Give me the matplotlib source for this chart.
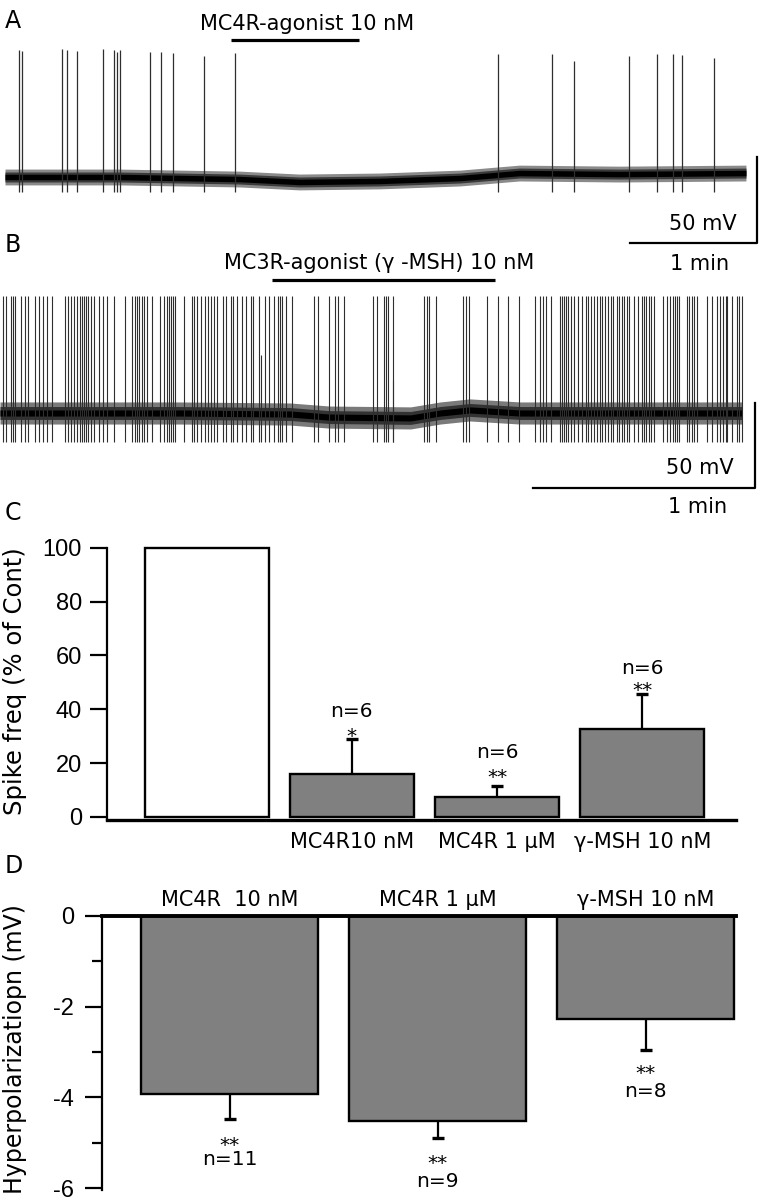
import numpy as np
import matplotlib
matplotlib.use('Agg')
import matplotlib.pyplot as plt
from matplotlib import font_manager as fm
from matplotlib.transforms import blended_transform_factory

plt.rcParams['font.family'] = ['DejaVu Sans']
plt.rcParams['axes.unicode_minus'] = False

# ---------------- data ----------------
# Panel A : MC4R-agonist 10 nM (times in s, voltages in mV)
a_spike_t = [6.5, 8.0, 26.9, 29.3, 33.9, 46.3, 51.5, 53.0, 54.3, 68.6, 73.7, 79.2, 93.9, 108.6,
             232.9, 258.4, 269.0, 294.8, 308.2, 315.5, 319.8, 334.7]
a_spike_peak = [23.8, 23.4, 24.4, 23.8, 23.3, 24.4, 23.8, 22.7, 23.8, 22.9, 22.9, 22.3, 20.3, 22.3,
                21.5, 21.5, 17.4, 20.1, 21.5, 21.5, 20.9, 19.2]
a_trough = -59.0
a_base_t = [0, 54, 111, 139, 177, 215, 243, 290, 350]
a_base_v = [-50.0, -50.0, -51.2, -52.9, -52.3, -50.6, -47.7, -48.3, -47.7]
a_drug = (106.6, 167.3)

# Panel B : MC3R-agonist (gamma-MSH) 10 nM
b_spike_t = [0.9, 1.7, 2.9, 3.6, 4.1, 5.6, 6.7, 7.6, 9.4, 10.5, 11.5, 12.6, 14.0,
             17.6, 18.3, 19.1, 20.0, 20.9, 21.6, 22.2, 22.7, 23.2, 23.9, 24.5, 25.4, 26.7, 27.8, 28.8,
             30.8, 33.8, 35.6, 36.4, 36.9, 37.6, 38.4, 39.0, 39.8, 41.1, 43.3, 44.2, 45.1, 45.8, 46.2,
             46.8, 47.3, 49.8, 51.8, 52.4, 53.2, 54.2, 55.5, 56.3, 57.1, 57.8, 58.6, 60.4, 61.1, 62.4,
             63.1, 64.0, 65.5, 66.5, 67.8, 68.3, 70.0, 71.6, 72.7, 74.0, 75.1, 75.7, 76.1, 77.4, 78.8,
             84.9, 85.9, 88.8, 90.5, 91.3, 93.0, 100.8, 101.8, 103.8, 104.3, 104.9, 106.1,
             114.7, 115.4, 116.0, 117.8, 125.1, 125.9, 126.8, 131.5, 134.7, 137.3, 140.2,
             144.5, 145.9, 146.8, 147.5, 149.0, 151.4, 151.8, 152.4, 153.0, 153.6, 154.2, 155.1,
             156.3, 157.2, 158.4, 159.0, 159.6, 160.5, 161.3, 162.2, 162.8, 163.5, 164.2, 165.1,
             165.8, 166.7, 167.4, 168.0, 168.7, 169.5, 170.1, 171.4, 172.5, 173.4, 174.1, 174.6,
             175.3, 175.9, 176.8, 179.1, 180.2, 181.1, 181.8, 182.4, 183.1, 183.6, 185.6, 186.2,
             187.1, 187.6, 188.3, 191.0, 192.4, 193.7, 194.6, 195.3, 196.1, 196.6, 197.9, 199.1,
             199.8, 200.5]
b_spike_peak = 19.0
b_short_t = [70.5, 106.3]
b_short_peak = [-15.9, -30.6]
b_trough = -67.0
b_base_t = [0, 48.6, 78.4, 89, 111, 119, 127, 140.5, 200.5]
b_base_v = [-50.0, -50.0, -50.6, -52.4, -52.9, -50.0, -48.2, -50.0, -50.0]
b_drug = (73.5, 133.7)

# Panel C : spike frequency (% of control)
c_labels = ['', 'MC4R10 nM', 'MC4R 1 \u03bcM', '\u03b3-MSH 10 nM']
c_values = [100, 16, 7.5, 32.5]
c_err = [0, 13, 4, 13]
c_n = ['', 'n=6', 'n=6', 'n=6']
c_sig = ['', '*', '**', '**']

# Panel D : hyperpolarization (mV)
d_labels = ['MC4R  10 nM', 'MC4R 1 \u03bcM', '\u03b3-MSH 10 nM']
d_values = [-3.92, -4.53, -2.27]
d_err = [0.55, 0.37, 0.68]
d_n = ['n=11', 'n=9', 'n=8']
d_sig = ['**', '**', '**']

# ---------------- layout ----------------
W, H = 762, 1200
fig = plt.figure(figsize=(W / 100, H / 100), dpi=100)

names = {f.name for f in fm.fontManager.ttflist}
if 'Liberation Sans Narrow' in names:
    TICKFONT, TICKSIZE = 'Liberation Sans Narrow', 18
elif 'Liberation Sans' in names:
    TICKFONT, TICKSIZE = 'Liberation Sans', 17
else:
    TICKFONT, TICKSIZE = 'DejaVu Sans', 15


def rect(x0, y0, x1, y1):
    return [x0 / W, 1 - y1 / H, (x1 - x0) / W, (y1 - y0) / H]


def ftext(x, y, s, size=15, ha='center', **kw):
    fig.text(x / W, 1 - y / H, s, fontsize=size, ha=ha, va='baseline', **kw)


GRAY = '#808080'
TRACE = '#2e2e2e'

# ----- Panel A trace -----
A_T0, A_PXS, A_BASE, A_PXMV = 5, 2.117, 177, 1.72
axA = fig.add_axes(rect(0, 0, W, 280))
axA.axis('off')
axA.set_xlim((0 - A_T0) / A_PXS, (W - A_T0) / A_PXS)
axA.set_ylim(-50 - (280 - A_BASE) / A_PXMV, -50 + A_BASE / A_PXMV)
bv = np.array(a_base_v)
axA.fill_between(a_base_t, bv - 4.6, bv + 4.6, color='#8a8a8a', lw=0)
axA.fill_between(a_base_t, bv - 2.9, bv + 2.9, color='#3a3a3a', lw=0)
axA.fill_between(a_base_t, bv - 1.6, bv + 1.6, color='black', lw=0)
axA.vlines(a_spike_t, a_trough, a_spike_peak, color=TRACE, lw=0.9)
axA.plot(a_drug, [29.7, 29.7], color='black', lw=2.3, solid_capstyle='butt')
axA.plot([295.2, 355.2, 355.2], [-88.4, -88.4, -38.4], color='black', lw=1.6)

ftext(5, 28, 'A', size=17, ha='left')
ftext(307, 30, 'MC4R-agonist 10 nM')
ftext(703, 230, '50 mV')
ftext(700, 270, '1 min')

# ----- Panel B trace -----
B_T0, B_PXS, B_BASE, B_PXMV = 0, 3.7, 413 - 240, 1.7
axB = fig.add_axes(rect(0, 240, W, 520))
axB.axis('off')
axB.set_xlim((0 - B_T0) / B_PXS, (W - B_T0) / B_PXS)
axB.set_ylim(-50 - (280 - B_BASE) / B_PXMV, -50 + B_BASE / B_PXMV)
bv = np.array(b_base_v)
axB.fill_between(b_base_t, bv - 6.5, bv + 6.5, color='#7a7a7a', lw=0)
axB.fill_between(b_base_t, bv - 3.8, bv + 3.8, color='#333333', lw=0)
axB.fill_between(b_base_t, bv - 1.8, bv + 1.8, color='black', lw=0)
axB.vlines(b_spike_t, b_trough, b_spike_peak, color=TRACE, lw=0.8)
axB.vlines(b_short_t, b_trough, b_short_peak, color=TRACE, lw=0.8)
axB.plot(b_drug, [28.2, 28.2], color='black', lw=2.3, solid_capstyle='butt')
axB.plot([144.05, 204.05, 204.05], [-94.1, -94.1, -44.1], color='black', lw=1.6)

ftext(5, 252, 'B', size=17, ha='left')
ftext(379, 269, 'MC3R-agonist (\u03b3 -MSH) 10 nM')
ftext(700, 474, '50 mV')
ftext(698, 513, '1 min')

# ----- Panel C bars -----
axC = fig.add_axes(rect(107, 542.6, 736, 820))
xc = np.arange(len(c_values))
axC.set_xlim(-0.685, 3.644)
axC.set_ylim(-1.2, 102)
axC.bar(xc, c_values, width=0.853, color=['white', GRAY, GRAY, GRAY],
        edgecolor='black', linewidth=1.7, clip_on=False, zorder=2)
cv = np.array(c_values, dtype=float)
ce = np.array(c_err, dtype=float)
axC.vlines(xc[1:], cv[1:], cv[1:] + ce[1:], color='black', lw=1.6, zorder=1)
axC.plot(xc[1:], cv[1:] + ce[1:], ls='none', marker='_', ms=9, mew=2.4, color='black')
for s in ('top', 'right'):
    axC.spines[s].set_visible(False)
axC.spines['left'].set_linewidth(1.6)
axC.spines['left'].set_bounds(-1.2, 100)
axC.spines['bottom'].set_linewidth(2.4)
axC.set_yticks([0, 20, 40, 60, 80, 100])
axC.set_yticklabels(['0', '20', '40', '60', '80', '100'], family=TICKFONT, fontsize=TICKSIZE)
axC.tick_params(axis='y', direction='out', length=12, width=1.6, pad=6)
axC.set_xticks(xc[1:])
axC.set_xticklabels(c_labels[1:], fontsize=15)
axC.tick_params(axis='x', length=0, pad=9)
fig.text(15 / W, 1 - 681 / H, 'Spike freq (% of Cont)', rotation=90, fontsize=17.5,
         ha='center', va='center')
ftext(5, 520, 'C', size=17, ha='left')

# n and significance stacked in one text per bar (last line baseline given in px)
trC = blended_transform_factory(axC.transData, fig.transFigure)
c_last_base = [None, 742, 783, 696]
c_spacing = [None, 1.4, 1.4, 1.2]
for i in range(1, len(c_values)):
    axC.text(xc[i], 1 - c_last_base[i] / H, c_n[i] + '\n' + c_sig[i], transform=trC,
             ha='center', va='baseline', multialignment='center', fontsize=14.5,
             linespacing=c_spacing[i])

# ----- Panel D bars -----
axD = fig.add_axes(rect(102, 916, 736, 1190.3))
xd = np.arange(len(d_values))
axD.set_xlim(-0.613, 2.435)
axD.set_ylim(-6.05, 0)
axD.bar(xd, d_values, width=0.851, color=GRAY, edgecolor='black', linewidth=1.7, zorder=2)
dv = np.array(d_values)
de = np.array(d_err)
axD.vlines(xd, dv - de, dv, color='black', lw=1.6, zorder=1)
axD.plot(xd, dv - de, ls='none', marker='_', ms=9, mew=2.4, color='black')
axD.spines['right'].set_visible(False)
axD.spines['bottom'].set_visible(False)
axD.spines['top'].set_linewidth(2.8)
axD.spines['left'].set_linewidth(1.6)
axD.set_yticks([0, -2, -4, -6])
axD.set_yticklabels(['0', '-2', '-4', '-6'], family=TICKFONT, fontsize=TICKSIZE)
axD.set_yticks([-1, -3, -5], minor=True)
axD.tick_params(axis='y', which='major', direction='out', length=12, width=1.6, pad=8)
axD.tick_params(axis='y', which='minor', direction='out', length=7, width=1.6)
axD.xaxis.tick_top()
axD.set_xticks(xd)
axD.set_xticklabels(d_labels, fontsize=15)
axD.tick_params(axis='x', length=0, pad=4)
fig.text(15 / W, 1 - 1049 / H, 'Hyperpolarizatiopn (mV)', rotation=90, fontsize=17,
         ha='center', va='center')
ftext(5, 873, 'D', size=17, ha='left')

trD = blended_transform_factory(axD.transData, fig.transFigure)
d_last_base = [1165, 1187, 1097]
d_spacing = [0.7, 0.9, 0.9]
for i in range(len(d_values)):
    axD.text(xd[i], 1 - d_last_base[i] / H, d_sig[i] + '\n' + d_n[i], transform=trD,
             ha='center', va='baseline', multialignment='center', fontsize=14.5,
             linespacing=d_spacing[i])

fig.savefig('out.png', dpi=100)
